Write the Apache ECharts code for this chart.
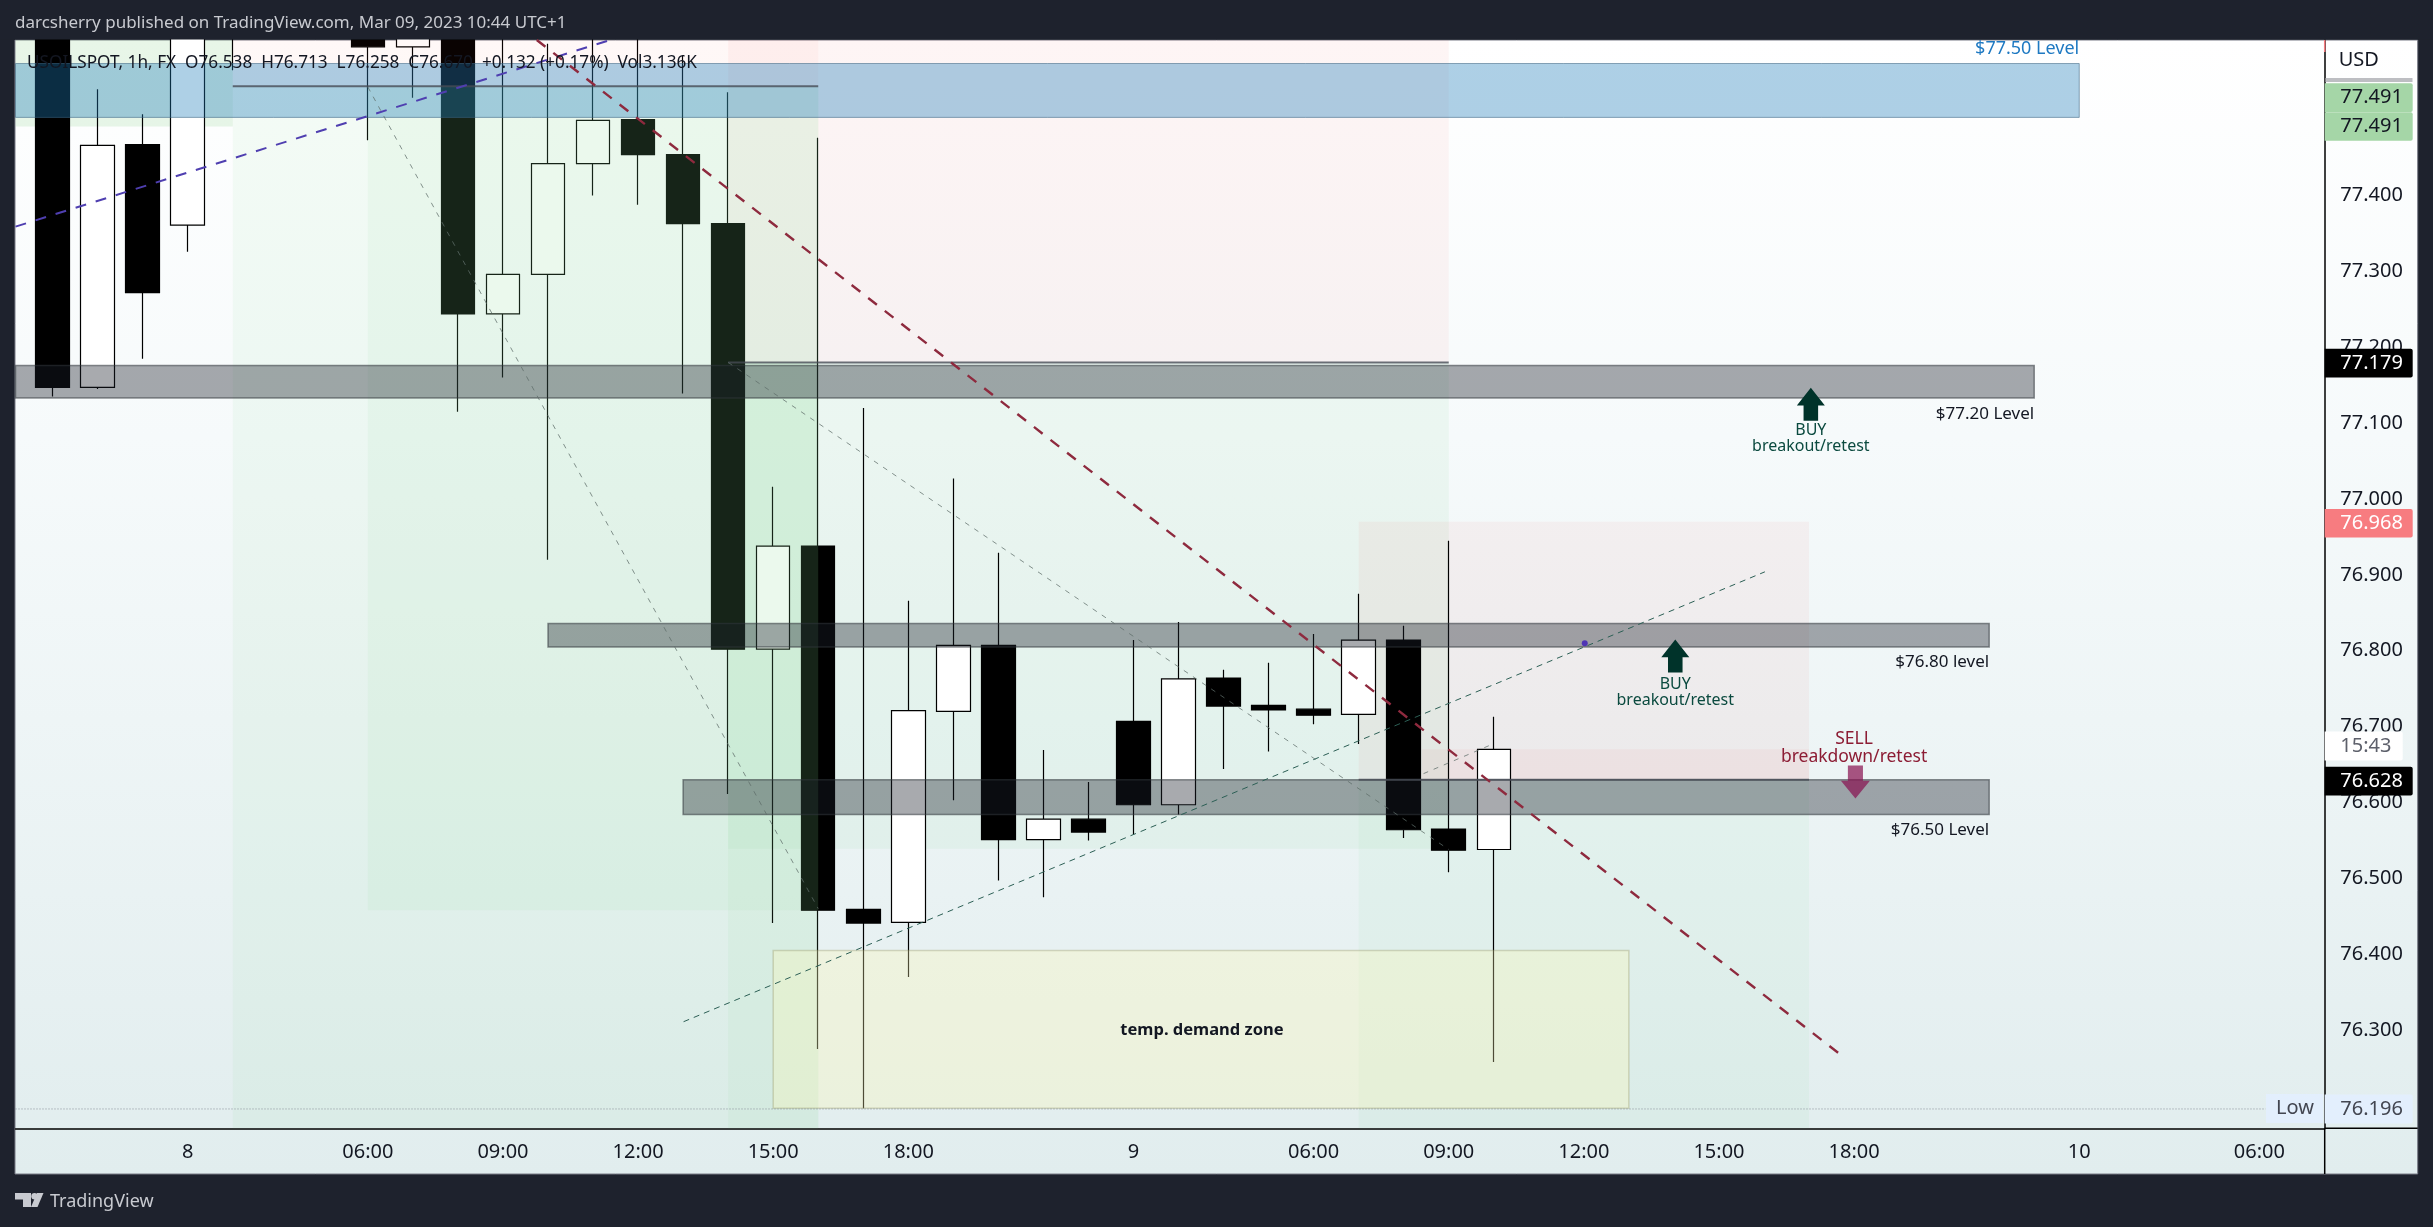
<!DOCTYPE html>
<html>
<head>
<meta charset="utf-8">
<title>USOILSPOT</title>
<style>html,body{margin:0;padding:0;background:#1e222d;overflow:hidden}#c{width:2433px;height:1227px}</style>
<script src="https://cdn.jsdelivr.net/npm/echarts@6/dist/echarts.min.js"></script>
</head>
<body>
<div id="c"></div>
<script>
// Candle data, bar by bar (values above the plot top are estimates; they are cropped in the picture)
const opens  = [77.75,77.147,77.467,77.361,77.66,77.71,77.74,77.70,77.596,77.66,77.244,77.296,77.442,77.500,77.454,77.363,76.802,76.938,76.459,76.442,76.720,76.807,76.551,76.578,76.707,76.597,76.764,76.728,76.723,76.716,76.814,76.565,76.538];
const closes = [77.147,77.466,77.272,77.66,77.71,77.74,77.70,77.596,77.66,77.244,77.296,77.442,77.499,77.454,77.363,76.802,76.938,76.458,76.441,76.721,76.807,76.551,76.578,76.561,76.597,76.763,76.727,76.722,76.715,76.814,76.564,76.537,76.670];
const lows   = [77.135,77.145,77.185,77.326,77.565,77.65,77.65,77.473,77.529,77.115,77.160,76.920,77.400,77.388,77.139,76.611,76.441,76.275,76.197,76.370,76.603,76.497,76.475,76.550,76.557,76.584,76.644,76.667,76.703,76.677,76.553,76.508,76.258];
const highs  = [77.80,77.540,77.507,77.72,77.74,77.80,77.78,77.72,77.70,77.68,77.63,77.600,77.62,77.62,77.585,77.536,77.016,77.476,77.120,76.866,77.027,76.929,76.669,76.627,76.814,76.838,76.775,76.784,76.822,76.875,76.833,76.945,76.713];

// Axes
const barMin = -0.824, barMax = 50.45;
const priceMin = 76.1705, priceMax = 77.605;
const priceTicks = [76.3,76.4,76.5,76.6,76.7,76.8,76.9,77.0,77.1,77.2,77.3,77.4];
const timeTickBars = [3,7,10,13,16,19,24,28,31,34,37,40,45,49];
const timeTickLabels = ['8','06:00','09:00','12:00','15:00','18:00','9','06:00','09:00','12:00','15:00','18:00','10','06:00'];

// Drawn zones: bar range and price range
const zoneNames = ['g0','g1','g2','g3','g4','g5','pA','pB','pC','pD','blue','grey1','grey2','grey3','demand'];
const zoneStart = [barMin,4,7,15,15,29,4,15,29,30.4,barMin,barMin,11,14,16];
const zoneEnd   = [4,17,17,31,17,39,17,31,39,39,45,44,43,43,35];
const zoneHigh  = [77.605,77.544,77.544,77.180,77.180,76.630,77.605,77.605,76.970,76.670,77.574,77.176,76.836,76.630,76.405];
const zoneLow   = [77.491,priceMin,76.458,76.539,priceMin,priceMin,77.544,77.180,76.630,76.630,77.503,77.133,76.805,76.584,76.197];
const zonesUnderCandles = ['g0','g3','g4','g5','pB','pC','pD'];

// Horizontal entry lines of the position tools
const entryPrices = [77.544,77.180,76.630];
const entryStart = [4,15,29];
const entryEnd = [17,31,39];

// Trend lines
const blueTrend = [[-0.824,77.359],[12.38,77.605]];
const redTrend = [[10.75,77.605],[39.82,76.262]];
const greenTrend = [[14.01,76.311],[38.02,76.904]];
const greyTrendA = [[7,77.543],[17,76.460]];
const greyTrendB = [[15,77.18],[31,76.538]];
const greyTrendC = [[30.44,76.638],[31.9,76.675]];
const lowLine = [[-0.824,76.196],[49.14,76.196]];
const dotPoint = [[34.02,76.81]];
const buyArrows = [[39.04,77.125],[36.03,76.793]];
const sellArrows = [[40.03,76.627]];

// Notes on the chart
const noteTexts = ['$77.50 Level','$77.20 Level','$76.80 level','$76.50 Level','BUY','breakout/retest','BUY','breakout/retest','SELL','breakdown/retest','temp. demand zone'];
const noteBars = [45,44,43,43,39.04,39.04,36.03,36.03,40,40,25.52];
const notePrices = [77.593,77.112,76.785,76.564,77.090,77.069,76.756,76.735,76.684,76.660,76.300];
const noteKinds = ['blue','plain','plain','plain','buy','buy','buy','buy','sell','sell','zone'];

// Tags on the price scale
const tagTexts = ['77.491','77.491','77.179','76.968','15:43','76.628','76.196'];
const tagPrices = [77.529,77.491,77.179,76.968,76.6745,76.628,76.196];
const tagKinds = ['green','green','black','red','clock','black','low'];

const FONT = '"Noto Sans", sans-serif';
const zoneStyle = {
  g0:{fill:'rgba(150,215,150,0.22)'}, g1:{fill:'rgba(140,215,150,0.085)'}, g2:{fill:'rgba(140,215,150,0.085)'},
  g3:{fill:'rgba(140,220,160,0.10)'}, g4:{fill:'rgba(140,220,160,0.09)'}, g5:{fill:'rgba(140,215,160,0.085)'},
  pA:{fill:'rgba(244,67,54,0.04)'}, pB:{fill:'rgba(244,67,54,0.05)'}, pC:{fill:'rgba(244,67,54,0.05)'}, pD:{fill:'rgba(244,67,54,0.05)'},
  blue:{fill:'rgba(30,125,185,0.36)',stroke:'rgba(60,100,130,0.55)',lineWidth:1},
  grey1:{fill:'rgba(27,32,43,0.38)',stroke:'rgba(50,55,60,0.55)',lineWidth:1.5},
  grey2:{fill:'rgba(27,32,43,0.38)',stroke:'rgba(50,55,60,0.55)',lineWidth:1.5},
  grey3:{fill:'rgba(27,32,43,0.38)',stroke:'rgba(50,55,60,0.55)',lineWidth:1.5},
  demand:{fill:'rgba(255,250,180,0.30)',stroke:'rgba(150,150,100,0.35)',lineWidth:1.5}
};
const noteStyle = {
  blue:{fill:'#1e79c2',fontSize:18,align:'right'},
  plain:{fill:'#131722',fontSize:17,align:'right'},
  buy:{fill:'#0b4a3f',fontSize:16,align:'center'},
  sell:{fill:'#8c1c34',fontSize:17.5,align:'center'},
  zone:{fill:'#131722',fontSize:16.5,fontWeight:'bold',align:'center'}
};
const tagStyle = {
  green:{bg:'#a5d6a7',fg:'#131722',w:88,h:28.7},
  black:{bg:'#000000',fg:'#ffffff',w:88,h:28.7},
  red:{bg:'#f77c80',fg:'#ffffff',w:88,h:28.7},
  clock:{bg:'#ffffff',fg:'#5d606b',w:78,h:29},
  low:{bg:'#e3effd',fg:'#434651',w:88,h:29}
};

function idx(n){ const a=[]; for(let i=0;i<n;i++) a.push(i); return a; }

const candleData = opens.map((o,i)=>[i,o,closes[i],lows[i],highs[i]]);

function renderZone(params, api){
  const i = api.value(0);
  const p1 = api.coord([zoneStart[i], zoneHigh[i]]);
  const p2 = api.coord([zoneEnd[i], zoneLow[i]]);
  const s = zoneStyle[zoneNames[i]];
  return {type:'rect', shape:{x:p1[0],y:p1[1],width:p2[0]-p1[0],height:p2[1]-p1[1]},
    style:{fill:s.fill,stroke:s.stroke||null,lineWidth:s.lineWidth||0}, silent:true};
}
function renderEntry(params, api){
  const i = api.value(0);
  const a = api.coord([entryStart[i], entryPrices[i]]);
  const b = api.coord([entryEnd[i], entryPrices[i]]);
  return {type:'line', shape:{x1:a[0],y1:a[1],x2:b[0],y2:b[1]}, style:{stroke:'rgba(70,75,85,0.8)',lineWidth:2}, silent:true};
}
function renderNote(params, api){
  const i = api.value(0);
  const p = api.coord([noteBars[i], notePrices[i]]);
  const s = noteStyle[noteKinds[i]];
  return {type:'text', style:{text:noteTexts[i],x:p[0],y:p[1],fill:s.fill,fontSize:s.fontSize,fontWeight:s.fontWeight||'normal',fontFamily:FONT,align:s.align,verticalAlign:'middle'}, silent:true};
}
function renderTag(params, api){
  const i = api.value(0);
  const p = api.coord([barMax, tagPrices[i]]);
  const s = tagStyle[tagKinds[i]];
  return {type:'group', children:[
    {type:'rect', shape:{x:p[0],y:p[1]-s.h/2,width:s.w,height:s.h,r:[0,2,2,0]}, style:{fill:s.bg}},
    {type:'text', style:{text:tagTexts[i],x:p[0]+15.6,y:p[1],fill:s.fg,fontSize:20,fontFamily:FONT,align:'left',verticalAlign:'middle'}}
  ], silent:true};
}
function trend(data,color,width,dash,z){
  return {type:'line',data:data,showSymbol:false,silent:true,animation:false,z:z,clip:true,
    lineStyle:{color:color,width:width,type:dash},emphasis:{disabled:true}};
}
function customSeries(items,render,z){
  return {type:'custom',data:items.map(i=>[i]),encode:{x:-1,y:-1},renderItem:render,silent:true,animation:false,z:z,clip:false};
}
const zoneIdx = idx(zoneNames.length);

const chart = echarts.init(document.getElementById('c'),null,{width:2433,height:1227,renderer:'canvas'});
chart.setOption({
  animation:false,
  backgroundColor:'#1e222d',
  textStyle:{fontFamily:FONT},
  grid:{left:15.5,top:40,width:2309.2,height:1088.3,containLabel:false},
  xAxis:{type:'value',min:barMin,max:barMax,
    axisLine:{show:true,onZero:false,lineStyle:{color:'#000',width:1.5}},axisTick:{show:false},splitLine:{show:false},
    axisLabel:{customValues:timeTickBars,color:'#131722',fontSize:20,fontFamily:FONT,margin:14,
      formatter:v=>timeTickLabels[timeTickBars.indexOf(v)]||''}},
  yAxis:{type:'value',position:'right',min:priceMin,max:priceMax,scale:true,
    axisLine:{show:true,onZero:false,lineStyle:{color:'#000',width:1.5}},axisTick:{show:false},splitLine:{show:false},
    axisLabel:{customValues:priceTicks,color:'#131722',fontSize:20,fontFamily:FONT,margin:15.6,align:'left',
      formatter:v=>v.toFixed(3)}},
  graphic:{elements:[
    {type:'rect',z:-10,silent:true,shape:{x:15,y:40,width:2402.7,height:1134},
      style:{stroke:'#787b86',lineWidth:1,fill:new echarts.graphic.LinearGradient(0,0,0,1,[{offset:0,color:'#ffffff'},{offset:0.35,color:'#f6fafb'},{offset:1,color:'#e1edee'}])}},
    {type:'rect',z:2.5,silent:true,shape:{x:0,y:0,width:2433,height:39.5},style:{fill:'#1e222d'}},
    {type:'line',z:20,silent:true,shape:{x1:2324.7,y1:1128,x2:2324.7,y2:1174},style:{stroke:'#000',lineWidth:1.5}},
    {type:'line',z:20,silent:true,shape:{x1:2324.7,y1:1128.3,x2:2417.7,y2:1128.3},style:{stroke:'#000',lineWidth:1.5}},
    {type:'line',z:20,silent:true,shape:{x1:2324.7,y1:40,x2:2324.7,y2:52},style:{stroke:'#f77c80',lineWidth:1.5}},
    {type:'rect',z:20,silent:true,shape:{x:2325.5,y:78,width:87,height:4},style:{fill:'#bdbec2'}},
    {type:'text',z:20,silent:true,style:{text:'USD',x:2338.7,y:60.7,fill:'#131722',fontSize:20,fontFamily:FONT,verticalAlign:'middle'}},
    {type:'rect',z:20,silent:true,shape:{x:2266,y:1094,width:57,height:29},style:{fill:'#e3effd'}},
    {type:'text',z:21,silent:true,style:{text:'Low',x:2276,y:1108.3,fill:'#434651',fontSize:20,fontFamily:FONT,verticalAlign:'middle'}},
    {type:'text',z:30,silent:true,style:{text:'darcsherry published on TradingView.com, Mar 09, 2023 10:44 UTC+1',x:15,y:23,fill:'#c8cad0',fontSize:17,fontFamily:FONT,verticalAlign:'middle'}},
    {type:'text',z:30,silent:true,style:{text:'USOILSPOT, 1h, FX  O76.538  H76.713  L76.258  C76.670  +0.132 (+0.17%)  Vol3.136K',x:27,y:62.7,fill:'#131722',fontSize:17.2,fontFamily:FONT,verticalAlign:'middle'}},
    {type:'group',z:30,silent:true,children:[
      {type:'polygon',shape:{points:[[15,1193],[31,1193],[31,1207],[23,1207],[23,1199.5],[15,1199.5]]},style:{fill:'#c8cad0'}},
      {type:'circle',shape:{cx:34.5,cy:1196.2,r:3.2},style:{fill:'#c8cad0'}},
      {type:'polygon',shape:{points:[[37,1193],[43.5,1193],[37.5,1207],[31,1207]]},style:{fill:'#c8cad0'}}
    ]},
    {type:'text',z:30,silent:true,style:{text:'TradingView',x:50,y:1201.7,fill:'#c8cad0',fontSize:18,fontFamily:FONT,verticalAlign:'middle'}}
  ]},
  series:[
    customSeries(zoneIdx.filter(i=>zonesUnderCandles.includes(zoneNames[i])),renderZone,1),
    {type:'candlestick',data:candleData,barWidth:34,z:2,silent:true,animation:false,clip:true,
      encode:{x:0,y:[1,2,3,4]},
      itemStyle:{color:'#ffffff',color0:'#000000',borderColor:'#000000',borderColor0:'#000000',borderWidth:1.2}},
    customSeries(zoneIdx.filter(i=>!zonesUnderCandles.includes(zoneNames[i])),renderZone,3),
    customSeries(idx(entryPrices.length),renderEntry,4),
    trend(greyTrendA,'rgba(95,110,105,0.75)',1,[5,6],5),
    trend(greyTrendB,'rgba(95,110,105,0.75)',1,[5,6],5),
    trend(greyTrendC,'rgba(95,110,105,0.75)',1,[5,6],5),
    trend(blueTrend,'#4f3fb0',2,[11,10],6),
    trend(redTrend,'#8e2a3e',2.4,[11,10],6),
    trend(greenTrend,'#2c5f55',1,[6,5],6),
    trend(lowLine,'#8a8f99',1,[1,2],4),
    {type:'scatter',data:dotPoint,symbol:'circle',symbolSize:6,silent:true,z:7,itemStyle:{color:'#4f35b5',opacity:1}},
    {type:'scatter',data:buyArrows,symbol:'path://M50 0L100 54L76 54L76 100L24 100L24 54L0 54Z',symbolSize:[28,33],symbolKeepAspect:false,silent:true,z:7,itemStyle:{color:'#00332a',opacity:1}},
    {type:'scatter',data:sellArrows,symbol:'path://M50 0L100 54L76 54L76 100L24 100L24 54L0 54Z',symbolSize:[29,33],symbolRotate:180,symbolKeepAspect:false,silent:true,z:7,itemStyle:{color:'rgba(136,14,79,0.7)',opacity:1}},
    customSeries(idx(noteTexts.length),renderNote,8),
    customSeries(idx(tagTexts.length),renderTag,9)
  ]
});
</script>
</body>
</html>
